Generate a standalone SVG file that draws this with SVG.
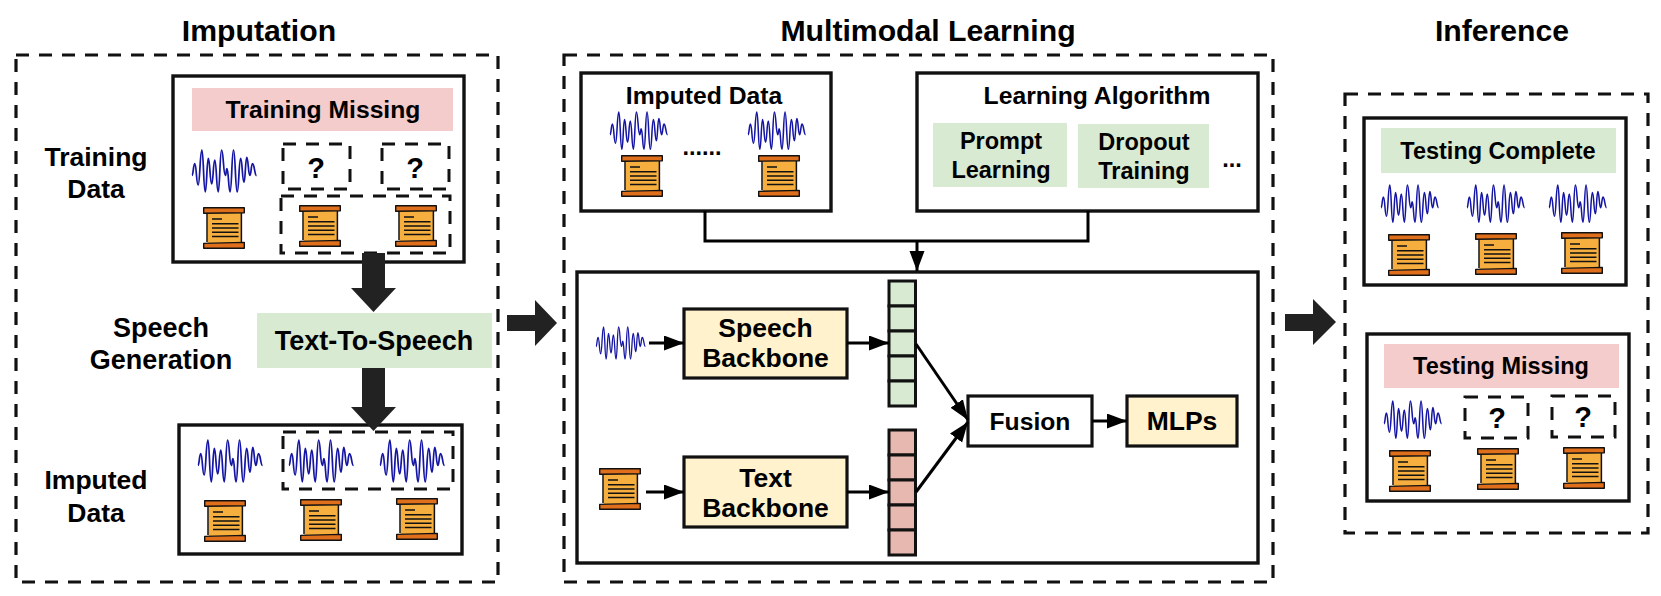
<svg xmlns="http://www.w3.org/2000/svg" xmlns:xlink="http://www.w3.org/1999/xlink" width="1661" height="596" viewBox="0 0 1661 596">
<style>
text{font-family:"Liberation Sans",Arial,sans-serif;font-weight:700;fill:#000;text-anchor:middle}
.panel{fill:none;stroke:#111;stroke-width:3.2;stroke-dasharray:13 10}
.box{fill:#fff;stroke:#111;stroke-width:3.4}
.dash{fill:none;stroke:#111;stroke-width:3;stroke-dasharray:13 10}
.green{fill:#d9ead3}.pink{fill:#f4cccc}
.yellow{fill:#fff2cc;stroke:#111;stroke-width:3.2}
.white{fill:#fff;stroke:#111;stroke-width:3.2}
.cg{fill:#d9ead3;stroke:#111;stroke-width:3}
.cr{fill:#e6b8af;stroke:#111;stroke-width:3}
.t30{font-size:30.2px}.t27{font-size:27px}.t26{font-size:26.5px}.t25{font-size:24.7px}.t24{font-size:23.5px}.t29{font-size:29px}
.line{fill:none;stroke:#000;stroke-width:3}
.arr{marker-end:url(#head)}
.big{fill:#222}
</style>
<defs>
<marker id="head" markerUnits="userSpaceOnUse" markerWidth="22" markerHeight="16" refX="20" refY="7.5" orient="auto"><path d="M0,0L20,7.5L0,15Z" fill="#000"/></marker>
<g id="wave"><path d="M0,25C1.3,25 1.3,13.3 2.7,13.3C4.3,13.3 4.3,34.3 6,34.3C7.8,34.3 7.8,0 9.7,0C11.3,0 11.3,41 13,41C14.5,41 14.5,8.3 16,8.3C17.6,8.3 17.6,33.3 19.3,33.3C20.8,33.3 20.8,10 22.3,10C24,10 24,41 25.7,41C27.3,41 27.3,0 29,0C30.8,0 30.8,25 32.7,25C33.5,25 33.5,18.3 34.3,18.3C35.8,18.3 35.8,41 37.3,41C39,41 39,0 40.7,0C42.5,0 42.5,41 44.3,41C46,41 46,8.3 47.7,8.3C49.3,8.3 49.3,31.7 51,31.7C52.3,31.7 52.3,7.3 53.7,7.3C55.2,7.3 55.2,25 56.7,25C58,25 58,13.3 59.3,13.3C61.3,13.3 61.3,25 63.3,25" fill="none" stroke="#1515a3" stroke-width="1.7"/></g>
<g id="scroll">
<rect x="4.5" y="5" width="33.5" height="31" fill="#f6ae3e"/>
<path d="M4,6V35M38.4,6V35" stroke="#111" stroke-width="1.5" fill="none"/>
<path d="M9,12H19M9,16.7H35.5M9,21H35.5M9,25.2H35.5M9,29.4H35.5" stroke="#111" stroke-width="1.5" fill="none"/>
<path d="M.7,.7H41.3V5.7L.7,6.2Z" fill="#e06f1c" stroke="#111" stroke-width="1.4" stroke-linejoin="round"/>
<path d="M.7,36.4L41.3,35.4V41.3H.7Z" fill="#e06f1c" stroke="#111" stroke-width="1.4" stroke-linejoin="round"/>
</g>
</defs>
<rect width="1661" height="596" fill="#fff"/>

<g id="titles">
<text class="t30" x="259" y="41">Imputation</text>
<text class="t30" x="928" y="41">Multimodal Learning</text>
<text class="t30" x="1502" y="41">Inference</text>
</g>

<g id="panel-imputation"><rect class="panel" x="16" y="55" width="482" height="527"/></g>
<g id="panel-multimodal"><rect class="panel" x="564" y="55" width="709" height="527"/></g>
<g id="panel-inference"><rect class="panel" x="1345" y="94" width="303" height="439"/></g>

<g id="label-training-data"><text class="t26" x="96" y="166">Training</text><text class="t26" x="96" y="198">Data</text></g>
<g id="label-speech-generation"><text class="t27" x="161" y="337">Speech</text><text class="t27" x="161" y="369">Generation</text></g>
<g id="label-imputed-data"><text class="t26" x="96" y="489">Imputed</text><text class="t26" x="96" y="522">Data</text></g>

<g id="training-data">
<rect class="box" x="173" y="76" width="291" height="186"/>
<rect class="pink" x="192" y="88" width="261" height="43"/>
<text class="t25" x="323" y="118">Training Missing</text>
<use href="#wave" transform="translate(192,150) scale(1.02)"/>
<rect class="dash" x="283" y="144" width="67" height="45"/><text class="t29" x="316" y="178">?</text>
<rect class="dash" x="382" y="144" width="67" height="45"/><text class="t29" x="415" y="178">?</text>
<rect class="dash" x="281" y="196" width="169" height="57"/>
<use href="#scroll" transform="translate(203,207)"/>
<use href="#scroll" transform="translate(299,205)"/>
<use href="#scroll" transform="translate(395,205)"/>
</g>

<g id="text-to-speech">
<rect class="green" x="257" y="313" width="235" height="55"/>
<text class="t27" x="374" y="350">Text-To-Speech</text>
</g>

<g id="imputed-data">
<rect class="box" x="179" y="425" width="283" height="129"/>
<rect class="dash" x="283" y="432" width="170" height="57"/>
<use href="#wave" transform="translate(198,440) scale(1.02)"/>
<use href="#wave" transform="translate(289,440) scale(1.02)"/>
<use href="#wave" transform="translate(380,440) scale(1.02)"/>
<use href="#scroll" transform="translate(204,500)"/>
<use href="#scroll" transform="translate(300,499)"/>
<use href="#scroll" transform="translate(396,498)"/>
</g>

<g id="imputed-data-2">
<rect class="box" x="581" y="73" width="250" height="138"/>
<text class="t25" x="704" y="104">Imputed Data</text>
<use href="#wave" transform="translate(610,112) scale(.91)"/>
<use href="#wave" transform="translate(748,112) scale(.91)"/>
<text class="t24" x="702" y="155">......</text>
<use href="#scroll" transform="translate(621,155)"/>
<use href="#scroll" transform="translate(758,155)"/>
</g>

<g id="learning-algorithm">
<rect class="box" x="917" y="73" width="341" height="138"/>
<text class="t25" x="1097" y="104">Learning Algorithm</text>
<rect class="green" x="933" y="123" width="134" height="64"/>
<text class="t24" x="1001" y="149">Prompt</text><text class="t24" x="1001" y="178">Learning</text>
<rect class="green" x="1078" y="124" width="131" height="64"/>
<text class="t24" x="1144" y="150">Dropout</text><text class="t24" x="1144" y="179">Training</text>
<text class="t24" x="1232" y="167">...</text>
</g>

<g id="model"><rect class="box" x="577" y="272" width="681" height="291"/></g>
<g id="speech-input"><use href="#wave" transform="translate(596,327) scale(.78)"/></g>
<g id="text-input"><use href="#scroll" transform="translate(599,468)"/></g>
<g id="speech-backbone">
<rect class="yellow" x="684" y="309" width="163" height="69"/>
<text class="t26" x="765.500" y="337">Speech</text><text class="t26" x="765.500" y="367">Backbone</text>
</g>
<g id="text-backbone">
<rect class="yellow" x="684" y="457" width="163" height="70"/>
<text class="t26" x="765.500" y="487">Text</text><text class="t26" x="765.500" y="517">Backbone</text>
</g>
<g id="speech-vector">
<rect class="cg" x="889" y="281" width="26.500" height="25"/><rect class="cg" x="889" y="306" width="26.500" height="25"/><rect class="cg" x="889" y="331" width="26.500" height="25"/><rect class="cg" x="889" y="356" width="26.500" height="25"/><rect class="cg" x="889" y="381" width="26.500" height="25"/>
</g>
<g id="text-vector">
<rect class="cr" x="889" y="430" width="26.500" height="25"/><rect class="cr" x="889" y="455" width="26.500" height="25"/><rect class="cr" x="889" y="480" width="26.500" height="25"/><rect class="cr" x="889" y="505" width="26.500" height="25"/><rect class="cr" x="889" y="530" width="26.500" height="25"/>
</g>
<g id="fusion">
<rect class="white" x="968" y="396" width="124" height="50"/>
<text class="t25" x="1030" y="430">Fusion</text>
</g>
<g id="mlps">
<rect class="yellow" x="1127" y="396" width="110" height="50"/>
<text class="t26" x="1182" y="430">MLPs</text>
</g>

<g id="testing-complete">
<rect class="box" x="1364" y="118" width="262" height="167"/>
<rect class="green" x="1381" y="128" width="235" height="45"/>
<text class="t24" x="1498" y="159">Testing Complete</text>
<use href="#wave" transform="translate(1381,185) scale(.91)"/>
<use href="#wave" transform="translate(1467,185) scale(.91)"/>
<use href="#wave" transform="translate(1549,185) scale(.91)"/>
<use href="#scroll" transform="translate(1388,234)"/>
<use href="#scroll" transform="translate(1475,233)"/>
<use href="#scroll" transform="translate(1561,232)"/>
</g>
<g id="testing-missing">
<rect class="box" x="1367" y="334" width="262" height="167"/>
<rect class="pink" x="1384" y="344" width="235" height="44"/>
<text class="t24" x="1501" y="374">Testing Missing</text>
<use href="#wave" transform="translate(1384,401) scale(.91)"/>
<rect class="dash" x="1465" y="397" width="63" height="41"/><text class="t29" x="1497" y="428">?</text>
<rect class="dash" x="1552" y="396" width="63" height="41"/><text class="t29" x="1583" y="427">?</text>
<use href="#scroll" transform="translate(1389,450)"/>
<use href="#scroll" transform="translate(1477,448)"/>
<use href="#scroll" transform="translate(1563,447)"/>
</g>

<g id="connectors">
<path class="big" d="M362,253H385V288H396L373.500,312L351,288H362Z"/>
<path class="big" d="M362,368H385V407H396L373.500,431L351,407H362Z"/>
<path class="big" d="M507,315H535V300L557,323L535,346V331H507Z"/>
<path class="big" d="M1285,314H1313V299L1336,322L1313,345V331H1285Z"/>
<path class="line" d="M705,211V241H1088V211"/>
<path class="line arr" d="M917,241V271"/>
<path class="line arr" d="M649,343H684"/>
<path class="line arr" d="M646,492H684"/>
<path class="line arr" d="M847,343H889"/>
<path class="line arr" d="M847,492H889"/>
<path class="line arr" d="M916,344L968,420"/>
<path class="line arr" d="M916,492L968,422"/>
<path class="line arr" d="M1092,421H1127"/>
</g>
</svg>
